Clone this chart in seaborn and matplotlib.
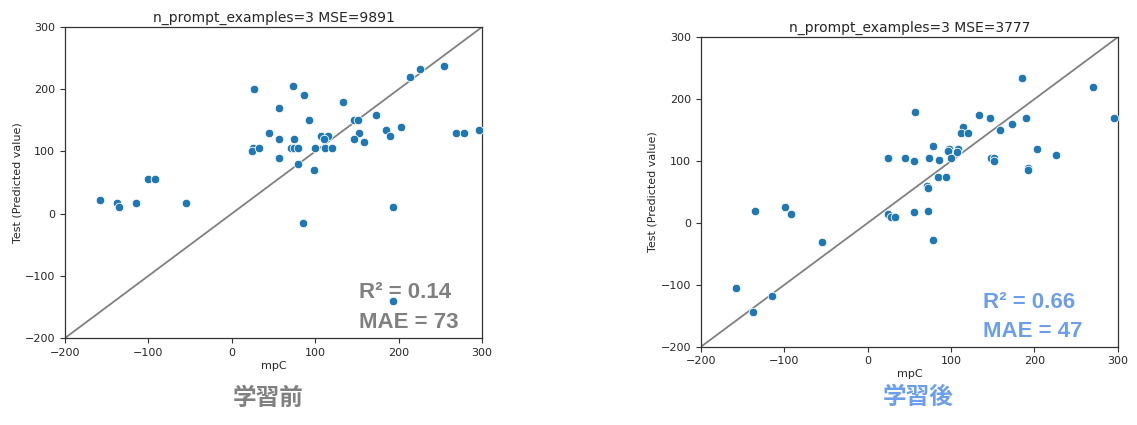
import numpy as np
import pandas as pd
import matplotlib
matplotlib.use("Agg")
import matplotlib.pyplot as plt
import seaborn as sns

# before training (left panel)
before_true = [27, 73, 86, 56, 133, 214, 226, 254, 93, 147, 151, 173, 45, 57, 74,
               107, 115, 110, 152, 146, 158, 185, 190, 203, 269, 278, 296, 25, 24,
               32, 71, 74, 79, 100, 112, 120, 56, 79, 98, -100, -92, -158, -138,
               -135, -115, -55, 85, 193, 193]
before_pred = [200, 205, 190, 170, 180, 220, 232, 238, 150, 150, 150, 159, 130, 120,
               120, 125, 125, 120, 130, 120, 115, 135, 125, 140, 130, 130, 135, 105,
               100, 105, 105, 105, 105, 105, 105, 105, 90, 80, 70, 55, 55, 22, 17,
               10, 17, 17, -15, 10, -140]

# after training (right panel)
after_true = [185, 270, 296, 57, 134, 147, 190, 173, 159, 115, 112, 121, 79, 98, 97,
              109, 107, 203, 226, 25, 45, 56, 74, 86, 100, 148, 152, 152, 193, 193,
              84, 94, 71, 73, -135, -99, -92, -55, 25, 28, 33, 56, 73, 79, -158,
              -115, -138]
after_pred = [235, 220, 170, 180, 175, 170, 170, 160, 151, 155, 145, 145, 125, 120,
              117, 120, 114, 120, 110, 105, 105, 100, 105, 102, 105, 105, 105, 100,
              89, 85, 75, 75, 59, 56, 20, 25, 15, -30, 14, 10, 10, 18, 19, -28,
              -105, -118, -144]

titles = ["n_prompt_examples=3 MSE=9891", "n_prompt_examples=3 MSE=3777"]
scores = [("0.14", "73"), ("0.66", "47")]
captions = ["学習前", "学習後"]
caption_colors = ["#808080", "#6d9eeb"]

sns.set_style("ticks")
plt.rcParams['font.family'] = ['DejaVu Sans', 'Noto Sans CJK JP']

fig = plt.figure(figsize=(11.37, 4.25), dpi=100)
ax_left = fig.add_axes([0.0572, 0.2047, 0.3668, 0.7318])
ax_right = fig.add_axes([0.6165, 0.1842, 0.3665, 0.728])

panels = [
    (ax_left, before_true, before_pred, (0.705, 0.129, 0.033)),
    (ax_right, after_true, after_pred, (0.677, 0.125, 0.032)),
]

for i, (ax, x, y, (tx, ty1, ty2)) in enumerate(panels):
    df = pd.DataFrame({"mpC": x, "pred": y})
    sns.scatterplot(data=df, x="mpC", y="pred", ax=ax, color="#1f77b4", s=38,
                    edgecolor="white", linewidth=0.6, zorder=3)
    ax.plot([-200, 300], [-200, 300], color="gray", lw=1.3, zorder=2)
    ax.set_xlim(-200, 300)
    ax.set_ylim(-200, 300)
    ax.set_xticks([-200, -100, 0, 100, 200, 300])
    ax.set_yticks([-200, -100, 0, 100, 200, 300])
    ax.tick_params(labelsize=8, length=3.5, width=0.8, color="#333333")
    for sp in ax.spines.values():
        sp.set_color("#333333")
        sp.set_linewidth(0.9)
    ax.set_title(titles[i], fontsize=10, pad=4)
    ax.set_xlabel("mpC", fontsize=8, labelpad=2)
    ax.set_ylabel("Test (Predicted value)", fontsize=8, labelpad=2)
    r2, mae = scores[i]
    ax.text(tx, ty1, f"R² = {r2}", transform=ax.transAxes, fontsize=16,
            fontweight="bold", color=caption_colors[i], family=["Liberation Sans"],
            ha="left", va="baseline", zorder=4)
    ax.text(tx, ty2, f"MAE = {mae}", transform=ax.transAxes, fontsize=16,
            fontweight="bold", color=caption_colors[i], family=["Liberation Sans"],
            ha="left", va="baseline", zorder=4)

fig.text(268 / 1137, 1 - 398 / 425, captions[0], fontsize=17, fontweight="bold",
         color=caption_colors[0], family=["Noto Sans CJK JP"], ha="center", va="center")
fig.text(918 / 1137, 1 - 397 / 425, captions[1], fontsize=17, fontweight="bold",
         color=caption_colors[1], family=["Noto Sans CJK JP"], ha="center", va="center")

fig.savefig("out.png", dpi=100)
